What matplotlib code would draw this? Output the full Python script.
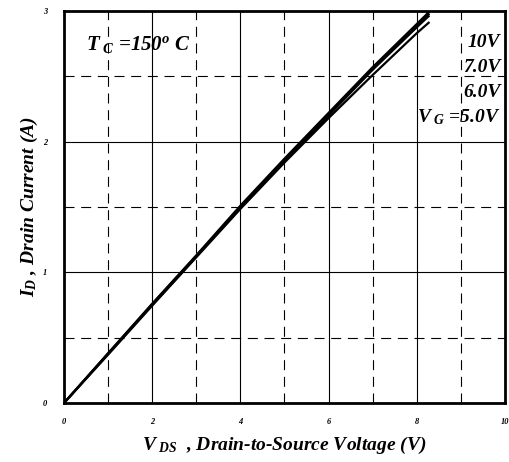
"""
Output characteristics at Tc = 150 C
I_D vs V_DS for several gate voltages
"""

import matplotlib
matplotlib.use('Agg')
import matplotlib.pyplot as plt

# data
vds = [0, 1, 2, 3, 4, 5, 6, 7, 8, 8.27]
id_10v = [0, 0.38, 0.76, 1.13, 1.51, 1.87, 2.22, 2.57, 2.90, 2.99]
id_7v = [0, 0.38, 0.755, 1.125, 1.50, 1.86, 2.21, 2.56, 2.89, 2.975]
id_6v = [0, 0.375, 0.75, 1.12, 1.495, 1.855, 2.20, 2.55, 2.875, 2.96]
id_5v = [0, 0.37, 0.745, 1.115, 1.485, 1.84, 2.18, 2.51, 2.83, 2.91]
curve_labels = ['10V', '7.0V', '6.0V', r'$\mathit{V}_{\ \mathit{G}}$ =5.0V']

x_ticks = [0, 2, 4, 6, 8, 10]
y_ticks = [0, 1, 2, 3]

plt.rcParams['font.family'] = 'Liberation Serif'
plt.rcParams['font.weight'] = 'bold'
plt.rcParams['font.style'] = 'italic'
plt.rcParams['axes.labelweight'] = 'bold'
plt.rcParams['mathtext.fontset'] = 'custom'
plt.rcParams['mathtext.it'] = 'Liberation Serif:italic:bold'
plt.rcParams['mathtext.rm'] = 'Liberation Serif:italic:bold'

fig = plt.figure(figsize=(5.09, 4.62), dpi=100)
ax = fig.add_axes([0.1257, 0.1277, 0.8663, 0.8485])

# grid: solid on major, dashed on the halves
for x in [2, 4, 6, 8]:
    ax.axvline(x, color='black', lw=0.8, zorder=1)
for x in [1, 3, 5, 7, 9]:
    ax.axvline(x, color='black', lw=0.8, ls=(0, (9, 6)), zorder=1)
for y in [1, 2]:
    ax.axhline(y, color='black', lw=0.8, zorder=1)
for y in [0.5, 1.5, 2.5]:
    ax.axhline(y, color='black', lw=0.8, ls=(0, (9, 6)), zorder=1)

for series in [id_10v, id_7v, id_6v, id_5v]:
    ax.plot(vds, series, color='black', lw=1.6, zorder=3)

ax.set_xlim(0, 10)
ax.set_ylim(0, 3)
ax.set_xticks(x_ticks)
ax.set_yticks(y_ticks)
ax.set_xticklabels([str(t) for t in x_ticks], fontsize=6)
ax.set_yticklabels([str(t) for t in y_ticks], fontsize=6)
ax.tick_params(length=0, pad=12)
ax.tick_params(axis='x', pad=11)
for s in ax.spines.values():
    s.set_linewidth(2)

ax.set_xlabel(r'$\mathit{V}_{\ \mathit{DS}}$  , Drain-to-Source Voltage (V)',
              fontsize=14, labelpad=6)
ax.set_ylabel(r'$\mathit{I}_{\mathit{D}}$ , Drain Current (A)',
              fontsize=14, labelpad=2)

ax.text(0.5, 2.74, r'T$_{\ \mathit{C}}$ =150$^{\mathit{o}}$ C', fontsize=15,
        ha='left', va='center', zorder=4)

label_y = [2.76, 2.57, 2.38, 2.19]
for lab, yy in zip(curve_labels, label_y):
    ax.text(9.9, yy, lab, fontsize=14, ha='right', va='center', zorder=4)

plt.savefig('out.png', dpi=100)
